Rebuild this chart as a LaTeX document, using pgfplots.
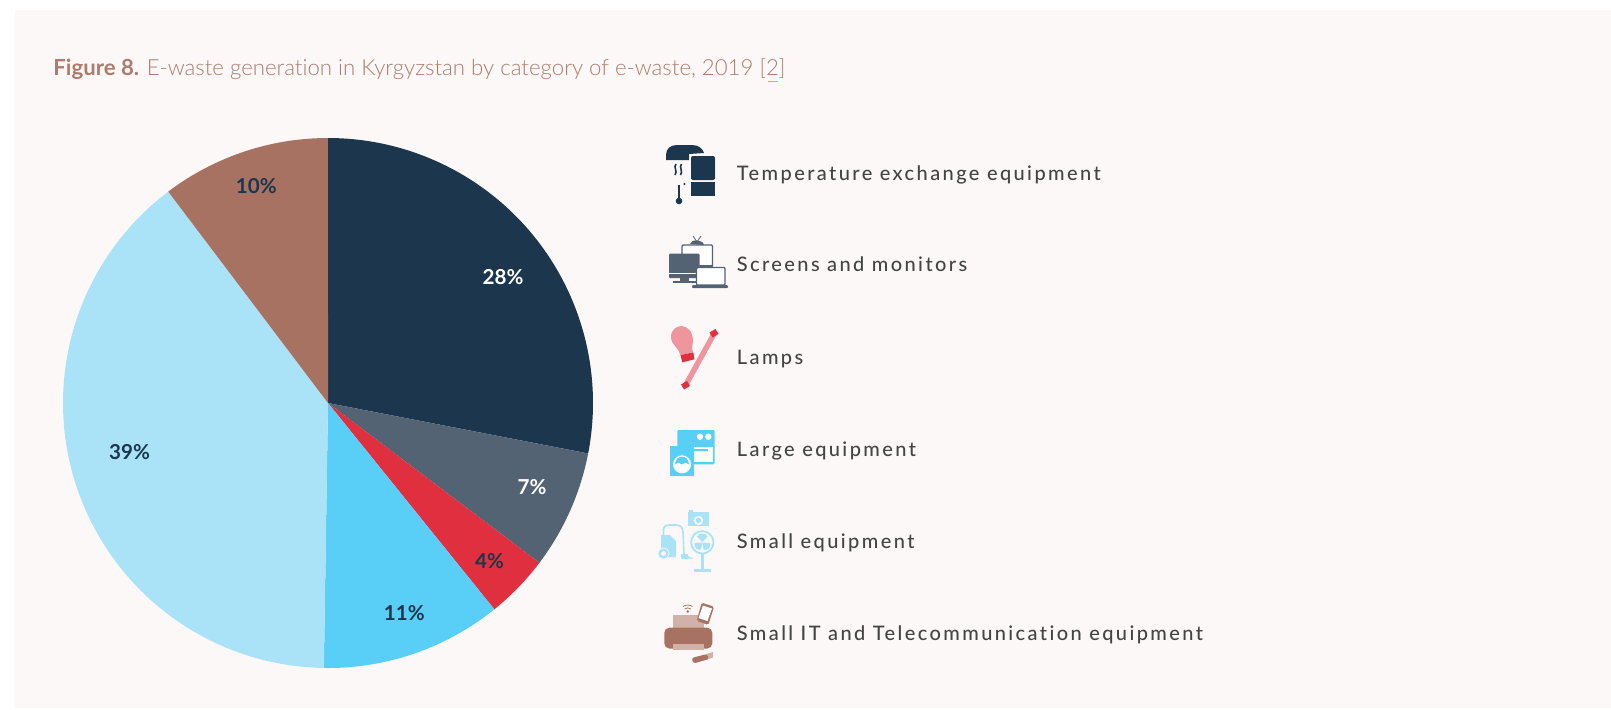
\documentclass[border=0pt]{standalone}
\usepackage{fontspec}
\setmainfont{Lato}
\newfontfamily\leg[LetterSpace=12,Ligatures=NoCommon]{Lato Medium}
\newfontfamily\lgt[Ligatures=NoCommon]{Lato Light}
\usepackage{pgfplots}
\pgfplotsset{compat=1.18}
\definecolor{cDark}{HTML}{1B364D}
\definecolor{cGrey}{HTML}{536373}
\definecolor{cRed}{HTML}{E03040}
\definecolor{cBlue}{HTML}{59CFF7}
\definecolor{cLight}{HTML}{AAE3F8}
\definecolor{cBrown}{HTML}{A87263}
\definecolor{cBrownL}{HTML}{D1B2A8}
\definecolor{cPink}{HTML}{EE959E}
\definecolor{cBg}{HTML}{FCF8F7}
\definecolor{cTxt}{HTML}{444444}
\definecolor{cTitle}{HTML}{AE7B6E}
% one pie slice: colour, start %, end % (clockwise from the top)
\newcommand{\slice}[3]{\addplot[fill=#1,draw=none,forget plot,domain=#2:#3,samples=90,smooth=false]
  ({328+265*sin(3.6*x)},{403-265*cos(3.6*x)}) -- (axis cs:328,403) -- cycle;}
\newcommand{\lab}[4]{\node[font=\fontsize{10.3}{11}\bfseries\selectfont,text=#1,anchor=center,inner sep=0pt] at (axis cs:#2,#3) {#4\%};}
\newcommand{\legtext}[2]{\node[font=\fontsize{10}{11}\leg,text=cTxt,anchor=base west,inner sep=0pt] at (axis cs:736.5,#1) {#2};}
\begin{document}
\begin{tikzpicture}
\begin{axis}[scale only axis,width=805.5pt,height=354.5pt,xmin=0,xmax=1611,ymin=0,ymax=709,y dir=reverse,hide axis,clip=true]
\addplot[fill=white,draw=none,forget plot] coordinates {(0,0)(1611,0)(1611,709)(0,709)} -- cycle;
\addplot[fill=cBg,draw=none,forget plot] coordinates {(14.5,10)(1611,10)(1611,708)(14.5,708)} -- cycle;
\slice{cDark}{0}{28.05}
\slice{cGrey}{28.05}{35.3}
\slice{cRed}{35.3}{39.2}
\slice{cBlue}{39.2}{50.25}
\slice{cLight}{50.25}{89.7}
\slice{cBrown}{89.7}{100}
\lab{white}{503}{277.5}{28}
\lab{white}{532}{487.5}{7}
\lab{cDark}{489.5}{561.5}{4}
\lab{cDark}{404.3}{612.8}{11}
\lab{cDark}{129.5}{452}{39}
\lab{cDark}{256.3}{186}{10}
% title
\node[anchor=base west,inner sep=0pt,text=cTitle,font=\fontsize{11.1}{12}\selectfont] at (axis cs:53,75.5) {\textbf{Figure 8.} {\lgt E-waste generation in Kyrgyzstan by category of e-waste, 2019 [2]}};
\fill[cBlue] (axis cs:767.5,80.5) rectangle (axis cs:778,82);
% legend
\legtext{180}{Temperature exchange equipment}
\legtext{271}{Screens and monitors}
\legtext{364.3}{Lamps}
\legtext{456}{Large equipment}
\legtext{548.3}{Small equipment}
\legtext{640}{Small IT and Telecommunication equipment}
% icon 1
\fill[cDark] (axis cs:666,160) -- (axis cs:666,155) .. controls (axis cs:666,149) and (axis cs:670,145) .. (axis cs:677,145) -- (axis cs:692,145) .. controls (axis cs:699,145) and (axis cs:703,149) .. (axis cs:704,153) -- (axis cs:689,154) -- (axis cs:689,160) -- cycle;
\fill[cDark,rounded corners=1pt] (axis cs:691,156) rectangle (axis cs:715,180);
\fill[cDark] (axis cs:691,182) rectangle (axis cs:715,196);
\draw[cBg,line width=0.5pt,rounded corners=1pt] (axis cs:690,181) -- (axis cs:690,155) -- (axis cs:716,155) -- (axis cs:716,181);
\draw[cDark,line width=0.8pt] (axis cs:676,164) .. controls (axis cs:673,167) and (axis cs:678,171) .. (axis cs:675,175);
\draw[cDark,line width=0.8pt] (axis cs:681.5,164) .. controls (axis cs:678.5,167) and (axis cs:683.5,171) .. (axis cs:680.5,175);
\draw[cDark,line width=1.4pt] (axis cs:679,185) -- (axis cs:679,200);
\fill[cDark] (axis cs:679,201) circle[radius=1.65pt];
\fill[cDark] (axis cs:684.5,184) circle[radius=0.6pt];
% icon 2
\fill[cGrey] (axis cs:690,244) .. controls (axis cs:691,239) and (axis cs:703,239) .. (axis cs:704,245) -- cycle;
\draw[cGrey,line width=0.4pt] (axis cs:693,236) -- (axis cs:697,242) -- (axis cs:701,236);
\fill[white,draw=cGrey,line width=0.7pt,rounded corners=0.5pt] (axis cs:682,245) rectangle (axis cs:712.5,266);
\fill[cGrey,rounded corners=0.5pt] (axis cs:669,253.5) rectangle (axis cs:699.5,278);
\draw[cBg,line width=0.3pt] (axis cs:669,273.5) -- (axis cs:699.5,273.5);
\fill[cGrey] (axis cs:680,278) rectangle (axis cs:689,281);
\fill[cGrey] (axis cs:673,281) rectangle (axis cs:696,282.5);
\fill[cGrey] (axis cs:700,265) rectangle (axis cs:713,268);
\fill[white,draw=cGrey,line width=0.7pt,rounded corners=0.5pt] (axis cs:696.5,267.5) rectangle (axis cs:725,285);
\fill[cGrey,rounded corners=0.5pt] (axis cs:692,285) rectangle (axis cs:728,288);
% icon 3
\draw[cPink,line width=2.7pt] (axis cs:714.3,333.3) -- (axis cs:685.7,385);
\fill[cRed] (axis cs:709.5,332.5) -- (axis cs:715.5,329) -- (axis cs:718.5,334) -- (axis cs:712.5,337.5) -- cycle;
\fill[cRed] (axis cs:681,384.5) -- (axis cs:687,381) -- (axis cs:690,386) -- (axis cs:684,389.5) -- cycle;
\fill[cPink] (axis cs:680.5,355) .. controls (axis cs:679,348) and (axis cs:671,345) .. (axis cs:671,337) .. controls (axis cs:671,329) and (axis cs:677,326) .. (axis cs:682,326) .. controls (axis cs:689,327) and (axis cs:693,333) .. (axis cs:693,340) .. controls (axis cs:693,345) and (axis cs:691,348) .. (axis cs:693,352) -- cycle;
\fill[cRed] (axis cs:680.5,355) -- (axis cs:693.3,352.3) -- (axis cs:694.5,359.3) -- (axis cs:682.3,362.3) -- cycle;
% icon 4
\fill[cBlue,rounded corners=0.7pt] (axis cs:677.3,430) rectangle (axis cs:714.7,464.3);
\fill[white] (axis cs:700,436.7) circle[radius=1.6pt];
\fill[white] (axis cs:708.3,436.7) circle[radius=1.6pt];
\fill[white] (axis cs:693,447) rectangle (axis cs:712.7,462);
\fill[cBlue] (axis cs:693,448.5) rectangle (axis cs:708.3,451);
\fill[cBlue] (axis cs:670,446) rectangle (axis cs:694.3,475.7);
\fill[white] (axis cs:682,464.3) circle[radius=4.5pt];
\fill[cBlue] (axis cs:675,464.5) .. controls (axis cs:675.5,454) and (axis cs:688.5,454) .. (axis cs:689,464.5) -- (axis cs:685.5,462.5) -- (axis cs:682,464.5) -- (axis cs:678.5,462.5) -- cycle;
% icon 5
\fill[cLight] (axis cs:688,512) rectangle (axis cs:709,526);
\fill[cLight] (axis cs:688.5,510) rectangle (axis cs:693,512);
\draw[cBg,line width=0.8pt] (axis cs:698.5,520.5) circle[radius=1.9pt];
\draw[cLight,line width=0.9pt] (axis cs:702.3,542.3) circle[radius=5.6pt];
\fill[cLight] (axis cs:702.3,542) -- (axis cs:697,536.5) .. controls (axis cs:699,532.5) and (axis cs:706,532.5) .. (axis cs:707.5,536.5) -- cycle;
\fill[cLight] (axis cs:702.3,542.5) -- (axis cs:694.5,543) .. controls (axis cs:693.5,548) and (axis cs:698,551) .. (axis cs:701,549.5) -- cycle;
\fill[cLight] (axis cs:702.3,542.5) -- (axis cs:710,543) .. controls (axis cs:711,548) and (axis cs:707,551) .. (axis cs:703.5,549.5) -- cycle;
\fill[cLight] (axis cs:701,554) rectangle (axis cs:703.5,569);
\fill[cLight] (axis cs:694,568.7) rectangle (axis cs:711,571.5);
\fill[cLight] (axis cs:661,535) -- (axis cs:670,535) -- (axis cs:676,541) -- (axis cs:676,557) -- (axis cs:661,557) -- cycle;
\draw[cLight,line width=0.8pt] (axis cs:663.5,535) -- (axis cs:663.5,530) .. controls (axis cs:663.5,526) and (axis cs:666,525) .. (axis cs:669,525) -- (axis cs:676,525) .. controls (axis cs:680,525) and (axis cs:683,527) .. (axis cs:683,532) -- (axis cs:684,554);
\fill[cLight] (axis cs:681,554) rectangle (axis cs:688,558.5);
\fill[cLight] (axis cs:688,556) -- (axis cs:693.5,558.5) -- (axis cs:688,558.5) -- cycle;
\fill[cLight,draw=cBg,line width=0.3pt] (axis cs:663.5,553.5) circle[radius=2.8pt];
\fill[cBg] (axis cs:663.5,553.5) circle[radius=1.2pt];
% icon 6
\fill[cBrownL] (axis cs:673.3,615) rectangle (axis cs:704,630);
\fill[cBrown,rounded corners=2.5pt] (axis cs:664.3,627.7) rectangle (axis cs:712.3,648.5);
\fill[cBrownL] (axis cs:673.3,644) rectangle (axis cs:704,650);
\fill[cBrown,rounded corners=0.8pt] (axis cs:701.7,602.7) -- (axis cs:714,606.7) -- (axis cs:708.3,625) -- (axis cs:696.7,620.7) -- cycle;
\fill[white] (axis cs:703,605.5) -- (axis cs:712,608.5) -- (axis cs:707.5,621) -- (axis cs:698.5,618) -- cycle;
\fill[cBrown] (axis cs:703.5,620.8) circle[radius=0.5pt];
\draw[cBrown,line width=0.4pt] (axis cs:683,606.5) .. controls (axis cs:686,604.5) and (axis cs:689.5,604.5) .. (axis cs:692.5,606.5);
\draw[cBrown,line width=0.4pt] (axis cs:684.5,609) .. controls (axis cs:686.5,607.5) and (axis cs:689,607.5) .. (axis cs:691,609);
\fill[cBrown] (axis cs:687.7,611.5) circle[radius=0.7pt];
\fill[cBrownL] (axis cs:706,654) -- (axis cs:713,652) -- (axis cs:713,657.5) -- (axis cs:707,659.5) -- cycle;
\fill[cBrown,rounded corners=1.2pt] (axis cs:691.5,658) -- (axis cs:707,654) -- (axis cs:709,659) -- (axis cs:693.5,663.5) -- cycle;
\end{axis}
\end{tikzpicture}
\end{document}
